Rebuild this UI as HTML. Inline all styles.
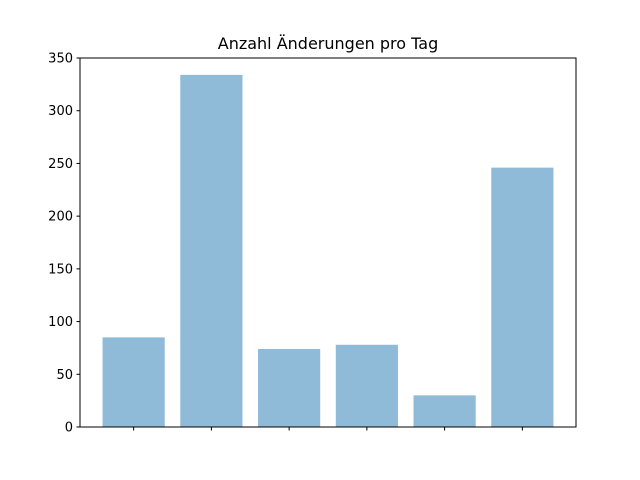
<!DOCTYPE html>
<html><head><meta charset="utf-8"><style>body{margin:0;background:#fff}svg{display:block}</style></head>
<body>
<svg id="chart" width="640" height="480" xmlns="http://www.w3.org/2000/svg" font-family="'DejaVu Sans', 'Liberation Sans', sans-serif">
<rect width="640" height="480" fill="#fff"/>
<text x="328" y="49" font-size="16" text-anchor="middle" fill="#000">Anzahl Änderungen pro Tag</text>
<g id="bars"></g>
<g id="yaxis"></g>
<g id="xaxis"></g>
<rect x="80" y="58" width="496" height="369" fill="none" stroke="#000" stroke-width="1"/>
</svg>
<script>
const categories = [0, 1, 2, 3, 4, 5];
const values = [85, 334, 74, 78, 30, 246];
const yTicks = [0, 50, 100, 150, 200, 250, 300, 350];
const NS = 'http://www.w3.org/2000/svg';
const L = 80, R = 576, T = 58, B = 427;
const xmin = -0.4 - 0.29, xmax = 5.4 + 0.29;
const xs = v => L + (v - xmin) / (xmax - xmin) * (R - L);
const ys = v => B - v / 350 * (B - T);
const bars = document.getElementById('bars');
categories.forEach((c, i) => {
  const r = document.createElementNS(NS, 'rect');
  const x0 = xs(c - 0.4), x1 = xs(c + 0.4);
  r.setAttribute('x', x0); r.setAttribute('width', x1 - x0);
  r.setAttribute('y', ys(values[i])); r.setAttribute('height', ys(0) - ys(values[i]));
  r.setAttribute('fill', '#8fbbd9');
  
  
  bars.appendChild(r);
});
const ya = document.getElementById('yaxis');
yTicks.forEach(t => {
  const y = ys(t);
  const l = document.createElementNS(NS, 'line');
  l.setAttribute('x1', L - 3.5); l.setAttribute('x2', L); l.setAttribute('y1', y); l.setAttribute('y2', y);
  l.setAttribute('stroke', '#000');
  
  
  ya.appendChild(l);
  const tx = document.createElementNS(NS, 'text');
  tx.setAttribute('x', L - 7); tx.setAttribute('y', y + 4.5);
  tx.setAttribute('font-size', '13'); tx.setAttribute('text-anchor', 'end');
  tx.textContent = t;
  
  
  ya.appendChild(tx);
});
const xa = document.getElementById('xaxis');
categories.forEach(c => {
  const x = xs(c);
  const l = document.createElementNS(NS, 'line');
  l.setAttribute('x1', x); l.setAttribute('x2', x); l.setAttribute('y1', B); l.setAttribute('y2', B + 3.5);
  l.setAttribute('stroke', '#000');
  
  
  xa.appendChild(l);
});
</script>
</body></html>
